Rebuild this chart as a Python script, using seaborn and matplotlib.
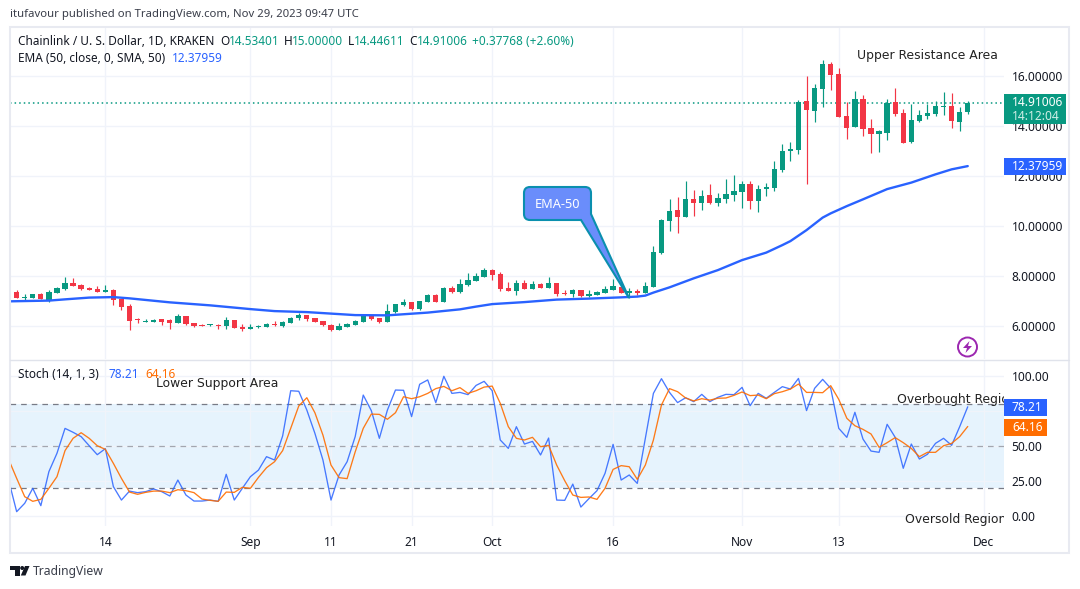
#!/usr/bin/python3
# Chainlink / USD daily candles with EMA-50 and stochastic pane

import numpy as np
import pandas as pd
import matplotlib
matplotlib.use("Agg")
import matplotlib.pyplot as plt
import matplotlib.dates as mdates
from matplotlib.patches import Circle, PathPatch, Polygon, Rectangle
from matplotlib.path import Path
import seaborn as sns

# candles, one a day from 2 Aug 2023
first_day = "2023-08-02"
open_price = [
    7.66,7.34,7.09,7.10,7.26,7.02,7.30,7.46,7.70,7.62,
    7.50,7.46,7.34,7.42,7.06,6.78,6.25,6.14,6.14,6.26,
    6.22,6.10,6.38,6.10,6.02,6.02,6.02,5.98,6.22,5.94,
    5.86,5.94,5.94,6.06,5.98,6.10,6.30,6.42,6.30,6.18,
    6.02,5.82,5.94,6.02,6.14,6.38,6.30,6.14,6.54,6.82,
    6.94,6.66,6.94,7.22,6.94,7.50,7.34,7.62,7.78,7.94,
    8.22,8.06,7.50,7.38,7.70,7.46,7.66,7.50,7.70,7.30,
    7.26,7.42,7.18,7.22,7.30,7.42,7.54,7.30,7.38,7.30,
    7.54,8.90,10.18,10.62,10.34,11.06,10.90,11.22,10.90,11.06,
    11.22,11.34,11.66,10.98,11.46,11.50,12.22,12.98,13.02,14.98,
    14.58,15.46,16.46,16.06,14.38,13.94,15.06,13.90,13.66,13.70,
    14.94,14.50,13.34,14.18,14.38,14.46,14.74,14.78,14.14,14.534]
high_price = [
    7.66,7.42,7.26,7.26,7.32,7.42,7.54,7.94,7.90,7.66,
    7.54,7.58,7.62,7.46,7.06,6.86,6.30,6.26,6.26,6.26,
    6.26,6.46,6.38,6.10,6.06,6.06,6.06,6.34,6.22,6.06,
    6.06,6.02,6.10,6.18,6.18,6.34,6.50,6.42,6.30,6.18,
    6.06,6.10,6.10,6.22,6.38,6.38,6.30,6.86,6.86,7.06,
    6.94,6.98,7.26,7.26,7.54,7.58,7.86,8.10,8.10,8.30,
    8.26,8.14,7.74,7.82,7.82,7.78,7.70,7.94,7.70,7.42,
    7.46,7.42,7.42,7.38,7.58,7.86,7.54,7.50,7.46,7.74,
    9.18,10.26,11.06,11.14,11.78,11.42,11.42,11.66,11.30,11.86,
    12.02,11.78,11.78,11.62,11.70,12.58,13.26,13.34,15.02,15.98,
    15.66,16.62,16.54,16.30,14.94,15.38,15.22,14.26,13.82,15.06,
    15.50,14.66,14.86,14.62,14.86,14.98,15.34,15.30,14.74,15.00]
low_price = [
    7.36,7.10,6.97,7.10,7.06,6.94,7.30,7.42,7.58,7.42,
    7.42,7.34,7.34,6.82,6.62,5.82,6.12,6.14,6.14,6.02,
    5.86,6.10,6.02,5.94,5.98,5.98,5.86,5.86,5.90,5.78,
    5.86,5.90,5.94,5.98,5.94,6.10,6.22,6.18,6.14,5.98,
    5.78,5.82,5.94,6.02,6.14,6.22,6.10,6.14,6.50,6.78,
    6.62,6.62,6.94,6.94,6.94,7.30,7.30,7.58,7.78,7.94,
    7.82,7.38,7.38,7.22,7.46,7.46,7.50,7.50,7.18,7.22,
    7.14,7.14,7.14,7.22,7.30,7.42,7.30,7.10,7.22,7.30,
    7.54,8.86,9.78,9.70,10.34,10.38,10.62,10.86,10.78,10.90,
    10.98,10.70,10.66,10.54,11.18,11.38,12.14,12.58,12.86,11.66,
    14.14,14.74,15.42,14.34,13.46,13.94,13.58,12.90,12.94,13.42,
    14.38,13.30,13.30,14.14,14.26,14.38,14.42,13.90,13.78,14.446]
close_price = [
    7.36,7.10,7.13,7.26,7.06,7.34,7.50,7.70,7.58,7.46,
    7.42,7.34,7.42,7.02,6.74,6.18,6.21,6.18,6.22,6.14,
    6.10,6.38,6.06,5.98,5.98,6.06,5.98,6.22,5.90,5.86,
    5.94,5.98,6.06,6.02,6.14,6.30,6.42,6.26,6.14,6.02,
    5.82,5.98,6.06,6.18,6.38,6.26,6.14,6.58,6.86,6.94,
    6.66,6.98,7.22,6.94,7.50,7.34,7.66,7.82,7.98,8.22,
    8.02,7.46,7.38,7.70,7.46,7.66,7.50,7.70,7.26,7.26,
    7.42,7.18,7.26,7.34,7.46,7.58,7.30,7.38,7.30,7.58,
    8.94,10.22,10.58,10.34,11.06,10.90,11.18,10.90,11.10,11.26,
    11.38,11.66,10.98,11.46,11.54,12.26,12.98,13.06,14.94,14.62,
    15.50,16.46,16.02,14.34,13.90,15.06,13.86,13.66,13.78,14.92,
    14.46,13.30,14.22,14.42,14.50,14.78,14.78,14.18,14.54,14.91]

ema_day = [0,5,7,10,13,15,20,25,30,33,37,40,43,47,52,56,58,60,64,68,72,76,78,79,80,
           82,85,88,91,94,96,97,99,101,102,104,106,109,112,115,117,119]
ema_value = [6.97,7.00,7.05,7.12,7.14,7.09,6.93,6.81,6.66,6.58,6.54,6.48,6.42,6.41,6.52,
             6.65,6.76,6.86,6.94,7.04,7.08,7.13,7.16,7.20,7.32,
             7.53,7.89,8.22,8.62,8.92,9.22,9.38,9.82,10.32,10.49,10.78,11.05,11.46,11.72,
             12.05,12.25,12.38]

stoch_k = [
    25.9,3.3,9.3,20,7.6,31.9,45,62.8,60,56.9,
    50.4,44,48.3,21.2,11.6,18,16.9,17.6,19.5,17.6,
    14.5,25.9,15.2,10.9,10.9,11.6,10.7,30,11.6,20,
    28.3,33,42.6,40.2,57.4,89.7,89.3,75.9,59.3,40.2,
    11.6,29.5,39,56.9,86.6,75.5,55.7,75.9,90.2,90,
    71.2,94.3,97.4,81.2,100,87.8,88.5,86.9,93.5,96.4,
    89.7,54.5,48.5,64,51.6,53.5,43.8,55.9,11.6,11.4,
    23,6.6,12.6,18.3,30.7,51.4,25.9,29.5,23.5,55.7,
    87.8,98.3,88.5,81.2,84.7,81.9,87.1,81.9,85,87.1,
    86.9,92.1,79,87.8,84.3,88.5,92.6,90.9,98.5,75.5,
    91.4,97.8,91.4,62.8,56.4,74.3,55.2,46.6,45.7,65.7,
    56.4,34.3,51.6,40.9,44.3,52.1,55.7,50.7,64,78.21]
stoch_d = [
    40.7,27.1,14,10.7,12.1,20,28.3,46.9,55.7,59.7,
    55.7,50.4,47.8,37.8,27.1,17.3,15.7,17.1,18,18,
    16.9,19,18.3,16.9,12.3,11.4,10.7,17.3,17.1,20.7,
    20,27.8,34.7,39,46.9,62.8,78.8,84.7,74,58,
    36.6,27.6,26.9,46,62.8,73,72.8,69.3,74,85.4,
    84,85.4,87.8,91.2,92.8,89.7,91.9,87.8,89.7,92.3,
    93,80.7,64,55.7,54.5,56.4,49.7,50.7,36.6,25.4,
    15.2,13.5,13.8,12.1,20,33.5,36.2,35.4,26.4,36.6,
    54.5,79.5,91.2,89,84.5,82.4,84,83,84.3,84.5,
    86.4,88.8,86.2,86.6,84,87.6,89,90.9,94.5,88.5,
    88.5,88.3,93.3,83.5,70,64.7,62.1,58.8,49.3,52.6,
    56.2,52.6,48.5,42.6,45.7,45.7,50.4,52.1,56.9,64.16]

time_ticks = ["2023-08-14","2023-09-01","2023-09-11","2023-09-21","2023-10-01",
              "2023-10-16","2023-11-01","2023-11-13","2023-12-01"]
time_labels = ["14","Sep","11","21","Oct","16","Nov","13","Dec"]
price_ticks = [6,8,10,12,14,16]
stoch_ticks = [0,25,50,75,100]

GREEN="#089981"
RED="#F23645"
BLUE="#2962FF"
ORANGE="#FF6D00"
GRID="#F0F3FA"
TXT="#131722"
UI=["Noto Sans","DejaVu Sans"]

sns.set_theme(style="white")
plt.rcParams["font.family"]=UI

W,H=1080,589
fig=plt.figure(figsize=(W/100,H/100),dpi=100,facecolor="white")

def pane(left,top,right,bottom):
    return fig.add_axes([left/W,1-bottom/H,(right-left)/W,(bottom-top)/H])

ax=pane(10,28,1004,359)
ax2=pane(10,360,1004,526)
ov=fig.add_axes([0,0,1,1],facecolor="none")
ov.set_xlim(0,W)
ov.set_ylim(H,0)
ov.axis("off")

days=pd.date_range(first_day,periods=len(open_price),freq="D")
candles=pd.DataFrame({"day":mdates.date2num(days),"o":open_price,"h":high_price,"l":low_price,"c":close_price})
candles["up"]=candles["c"]>=candles["o"]
candles["color"]=np.where(candles["up"],GREEN,RED)

px_day=8.06
left_day=candles["day"].iloc[0]+(10-8.6)/px_day
right_day=candles["day"].iloc[0]+(1004-8.6)/px_day
tick_pos=mdates.date2num(pd.to_datetime(time_ticks))

# price pane
ax.vlines(candles["day"],candles["l"],candles["h"],colors=candles["color"],linewidth=0.85,zorder=3)
ax.bar(candles["day"],(candles["c"]-candles["o"]).abs().clip(lower=0.04),bottom=candles[["o","c"]].min(axis=1),
       width=0.66,color=candles["color"],linewidth=0,zorder=4)
ema=pd.DataFrame({"day":candles["day"].iloc[ema_day].values,"ema":ema_value})
sns.lineplot(data=ema,x="day",y="ema",ax=ax,color=BLUE,linewidth=1.7,errorbar=None,zorder=5)
ax.axhline(close_price[-1],color=GREEN,linewidth=1.1,linestyle=(0,(1,2)),zorder=2)
ax.set_xlim(left_day,right_day)
ax.set_ylim(16-(359-75.6)/25,16-(28-75.6)/25)
ax.set_yticks(price_ticks)
ax.set_yticklabels(["%.5f"%p for p in price_ticks])

# stochastic pane
ax2.axhspan(20,80,color="#E6F3FD",linewidth=0,zorder=0)
for level,col in [(80,"#787B86"),(50,"#A3A6AF"),(20,"#787B86")]:
    ax2.axhline(level,color=col,linewidth=0.9,linestyle=(0,(4.5,4)),zorder=2)
sns.lineplot(x=candles["day"],y=stoch_k,ax=ax2,color=BLUE,linewidth=0.95,alpha=0.85,errorbar=None,zorder=4)
sns.lineplot(x=candles["day"],y=stoch_d,ax=ax2,color=ORANGE,linewidth=0.95,alpha=0.9,errorbar=None,zorder=5)
ax2.set_xlim(left_day,right_day)
ax2.set_ylim((516.3-526)/1.4,(516.3-360)/1.4)
ax2.set_yticks(stoch_ticks)
ax2.set_yticklabels(["%.2f"%s for s in stoch_ticks])

for a in (ax,ax2):
    a.set_xlabel("")
    a.set_ylabel("")
    a.set_xticks(tick_pos)
    a.grid(True,color=GRID,linewidth=1,zorder=0)
    a.set_axisbelow(True)
    a.yaxis.tick_right()
    a.tick_params(axis="y",length=0,pad=5.5,labelsize=8.6,labelcolor=TXT)
    a.tick_params(axis="x",length=0,pad=7,labelsize=8.6,labelcolor=TXT)
    for s in a.spines.values():
        s.set_visible(False)
ax.tick_params(labelbottom=False)
ax2.set_xticklabels(time_labels)

# frame around the chart
ov.add_patch(Rectangle((10,27),1059,526,fill=False,edgecolor="#E8EAF1",linewidth=1.5))
ov.plot([10,1069],[359.5,359.5],color="#E0E3EB",linewidth=1)

def txt(x,y,s,color=TXT,size=8.5,**kw):
    return ov.text(x,y,s,color=color,fontsize=size,va="center",ha=kw.pop("ha","left"),**kw)

# header
txt(10.5,15,"itufavour published on TradingView.com, Nov 29, 2023 09:47 UTC",color="#3a3e4a",size=8.15)
txt(18,41.5,"Chainlink / U. S. Dollar, 1D, KRAKEN")
for x,s in [(220,"O"),(284,"H"),(347.5,"L"),(409.5,"C")]:
    txt(x,41.5,s)
for x,s in [(228.5,"14.53401"),(292,"15.00000"),(354,"14.44611"),(417,"14.91006"),(472,"+0.37768 (+2.60%)")]:
    txt(x,41.5,s,color=GREEN)
txt(18,59,"EMA (50, close, 0, SMA, 50)")
txt(172,59,"12.37959",color=BLUE)
txt(18,374.5,"Stoch (14, 1, 3)")
txt(108.7,374.5,"78.21",color=BLUE)
txt(145.7,374.5,"64.16",color=ORANGE)

# drawn notes, cut off at the price scale
note_clip=Rectangle((10,27),994,499,transform=ov.transData)
for x,y,s in [(857,55,"Upper Resistance Area"),(156,383,"Lower Support Area"),
              (897,400,"Overbought Region"),(905,520,"Oversold Region")]:
    t=txt(x,y,s,color="#222222",size=8.9,family="DejaVu Sans")
    t.set_clip_on(True)
    t.set_clip_path(note_clip)

# price boxes
for x0,y0,x1,y1,col in [(1004,94,1066,124,GREEN),(1004,158,1066,175,BLUE),
                        (1004,399,1047,416,BLUE),(1004,419,1047,436,ORANGE)]:
    ov.add_patch(Rectangle((x0,y0),x1-x0,y1-y0,facecolor=col,edgecolor="none",zorder=6))
for x,y,s,col in [(1012,102,"14.91006","white"),(1012,116.5,"14:12:04","#cfeee6"),(1012,166.5,"12.37959","white"),
                  (1012,407.5,"78.21","white"),(1012,427.5,"64.16","white")]:
    t=txt(x,y,s,color=col,size=8.6,fontweight="medium")
    t.set_zorder(7)

# EMA-50 callout
r=6
verts=[(524+r,187),(591-r,187),(591,187),(591,187+r),(591,214),(629,298),(581,220),
       (524+r,220),(524,220),(524,220-r),(524,187+r),(524,187),(524+r,187),(524+r,187)]
codes=[Path.MOVETO,Path.LINETO,Path.CURVE3,Path.CURVE3,Path.LINETO,Path.LINETO,Path.LINETO,
       Path.LINETO,Path.CURVE3,Path.CURVE3,Path.LINETO,Path.CURVE3,Path.CURVE3,Path.CLOSEPOLY]
ov.add_patch(PathPatch(Path(verts,codes),facecolor="#6A8DFB",edgecolor="#0A8FAE",linewidth=1.5,zorder=5))
txt(557.5,204,"EMA-50",color="white",size=9.2,ha="center",zorder=6)

# lightning badge
ov.add_patch(Circle((967.5,347),9.5,fill=False,edgecolor="#9C27B0",linewidth=1.4))
ov.add_patch(Polygon([(969.5,341),(963,348),(967,348),(965.5,353),(972,346),(968,346)],facecolor="#9C27B0",edgecolor="none"))

# TradingView mark
ov.add_patch(Polygon([(10,566),(19.5,566),(19.5,575.5),(15,575.5),(15,570),(10,570)],facecolor="#131722",edgecolor="none"))
ov.add_patch(Circle((22.2,568),2,facecolor="#131722",edgecolor="none"))
ov.add_patch(Polygon([(25,566),(29.5,566),(25.5,575.5),(20.8,575.5)],facecolor="#131722",edgecolor="none"))
txt(33,571.5,"TradingView",color="#3a3e4a",size=8.75)

fig.savefig("out.png",dpi=100,facecolor="white")
